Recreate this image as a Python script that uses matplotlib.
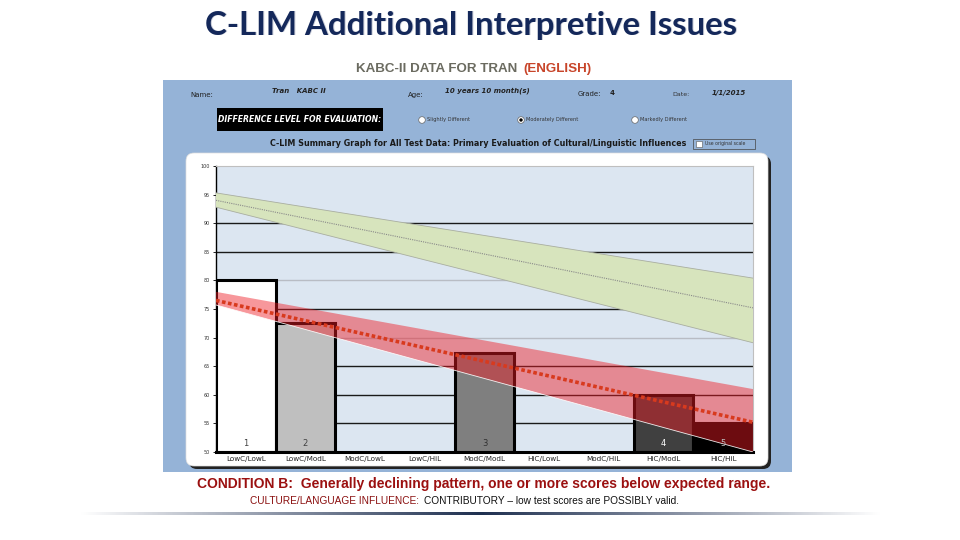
import matplotlib.pyplot as plt
from matplotlib.patches import Rectangle, FancyBboxPatch, Circle
from matplotlib.colors import LinearSegmentedColormap
import numpy as np

# C-LIM cells on the x axis
categories = ['LowC/LowL', 'LowC/ModL', 'ModC/LowL', 'LowC/HiL', 'ModC/ModL',
              'HiC/LowL', 'ModC/HiL', 'HiC/ModL', 'HiC/HiL']
# aggregate scores per cell (None = no tests in that cell)
scores = [80, 72.5, None, None, 67.3, None, None, 60, 55]
score_labels = ['1', '2', '', '', '3', '', '', '4', '5']
y_ticks = [50, 55, 60, 65, 70, 75, 80, 85, 90, 95, 100]

# expected-range bands, given at the left and right edges of the plot
band_x = [-0.5, 8.5]
green_upper = [95.3, 80.4]
green_lower = [92.8, 69.1]
green_mid = [94.0, 75.2]
red_upper = [78.0, 61.0]
red_lower = [75.7, 50.0]
red_mid = [76.5, 55.2]

bar_colors = ['white', '#BFBFBF', None, None, '#7F7F7F', None, None, '#404040', '#000000']
label_colors = ['#404040', '#404040', None, None, '#303030', None, None, 'white', '#bbbbbb']

W, H = 960, 540
fig = plt.figure(figsize=(9.6, 5.4), dpi=100)

# page layer in pixel coordinates
bg = fig.add_axes([0, 0, 1, 1])
bg.set_xlim(0, W)
bg.set_ylim(H, 0)
bg.axis('off')


def text_after(prev, y, s, gap=0, **kw):
    # place a text run right after an earlier one
    fig.canvas.draw()
    x_end = bg.transData.inverted().transform(prev.get_window_extent().p1)[0]
    return bg.text(x_end + gap, y, s, ha='left', va='center', **kw)


bg.text(472, 26, 'C-LIM Additional Interpretive Issues', ha='center', va='center',
        fontsize=23.8, fontweight='bold', family='Lato', color='#c8ccd8')
bg.text(471, 25, 'C-LIM Additional Interpretive Issues', ha='center', va='center',
        fontsize=23.8, fontweight='bold', family='Lato', color='#14285a')

t1 = bg.text(356, 69, 'KABC-II DATA FOR TRAN', ha='left', va='center',
             fontsize=9.6, fontweight='bold', family='Liberation Sans', color='#6b6b60')
text_after(t1, 69, '(ENGLISH)', gap=6, fontsize=9.6, fontweight='bold', family='Liberation Sans',
           color='#c8452a')

# blue form panel
bg.add_patch(Rectangle((163, 80), 629, 392, facecolor='#95B3D7', edgecolor='none'))
bg.text(190, 95, 'Name:', fontsize=5, va='center', color='#222222')
bg.text(272, 91, 'Tran   KABC II', fontsize=5, va='center', style='italic', fontweight='bold', color='#222222')
bg.text(408, 95, 'Age:', fontsize=5, va='center', color='#222222')
bg.text(445, 91, '10 years 10 month(s)', fontsize=5, va='center', style='italic', fontweight='bold', color='#222222')
bg.text(578, 94, 'Grade:', fontsize=5, va='center', color='#222222')
bg.text(610, 93, '4', fontsize=5, va='center', fontweight='bold', color='#222222')
bg.text(672, 95, 'Date:', fontsize=4.5, va='center', color='#333333')
bg.text(712, 93, '1/1/2015', fontsize=5, va='center', style='italic', fontweight='bold', color='#222222')

bg.add_patch(Rectangle((217, 108), 166, 23, facecolor='black', edgecolor='none'))
bg.text(300, 119.5, 'DIFFERENCE LEVEL FOR EVALUATION:', ha='center', va='center', fontsize=5.6,
        style='italic', fontweight='bold', color='white')

for cx, txt, on in [(422, 'Slightly Different', False), (521, 'Moderately Different', True),
                    (635, 'Markedly Different', False)]:
    bg.add_patch(Circle((cx, 120), 3.3, facecolor='white', edgecolor='#666666', lw=0.5))
    if on:
        bg.add_patch(Circle((cx, 120), 1.7, facecolor='black', edgecolor='none'))
    bg.text(cx + 5, 120, txt, fontsize=3.6, va='center', color='#333333')

bg.text(478, 143, 'C-LIM Summary Graph for All Test Data: Primary Evaluation of Cultural/Linguistic Influences',
        ha='center', va='center', fontsize=5.8, fontweight='bold', color='#1a1a1a')
bg.add_patch(Rectangle((693, 139), 62, 10, facecolor='#95B3D7', edgecolor='#444444', lw=0.5))
bg.add_patch(Rectangle((696, 141), 6, 6, facecolor='white', edgecolor='#555555', lw=0.4))
bg.text(705, 144, 'Use original scale', fontsize=3.3, va='center', color='#333333')

# white chart box with shadow
bg.add_patch(FancyBboxPatch((189, 156), 582, 313, boxstyle='round,pad=0,rounding_size=8',
                            facecolor='#222222', edgecolor='none'))
bg.add_patch(FancyBboxPatch((186, 153), 582, 313, boxstyle='round,pad=0,rounding_size=8',
                            facecolor='white', edgecolor='#dddddd', lw=0.5))

# captions
bg.text(484, 484, 'CONDITION B:  Generally declining pattern, one or more scores below expected range.',
        ha='center', va='center', fontsize=10, fontweight='bold', family='Liberation Sans', color='#9b1010')
t2 = bg.text(250, 501, 'CULTURE/LANGUAGE INFLUENCE:', ha='left', va='center', fontsize=7.3,
             family='Liberation Sans', color='#8b1010')
text_after(t2, 501, 'CONTRIBUTORY \u2013 low test scores are POSSIBLY valid.', gap=5,
           fontsize=7.3, family='Liberation Sans', color='#111111')

# fading rule under the captions
grad = np.abs(np.linspace(-1, 1, 400))
rule = fig.add_axes([80 / W, 1 - 515 / H, 800 / W, 3 / H])
rule.imshow(grad[None, :], aspect='auto', vmin=0, vmax=1,
            cmap=LinearSegmentedColormap.from_list('r', ['#1f3050', '#8a93a5', '#ffffff']))
rule.axis('off')

# chart
ax = fig.add_axes([216 / W, 1 - 452 / H, 537 / W, 286 / H])
ax.set_facecolor('#DCE6F1')
x = np.arange(len(categories))
ax.set_xlim(-0.5, len(categories) - 0.5)
ax.set_ylim(50, 100)

for yv, col in [(55, '#1a1a1a'), (60, '#1a1a1a'), (65, '#1a1a1a'), (70, '#b8bcc4'), (75, '#1a1a1a'),
                (80, '#b8bcc4'), (85, '#1a1a1a'), (90, '#1a1a1a')]:
    ax.axhline(yv, color=col, lw=1.0, zorder=0.5)

for i, v in enumerate(scores):
    if v is None:
        continue
    ax.bar(x[i], v - 50, bottom=50, width=1.0, color=bar_colors[i], edgecolor='black', lw=2.2, zorder=2)
    ax.text(x[i], 51.4, score_labels[i], ha='center', va='center', fontsize=6, color=label_colors[i], zorder=5)

ax.fill_between(band_x, green_lower, green_upper, color='#D7E4BD', edgecolor='none', zorder=3)
ax.plot(band_x, green_upper, color='#a9aea0', lw=0.6, zorder=3.2)
ax.plot(band_x, green_lower, color='#a9aea0', lw=0.6, zorder=3.2)
ax.plot(band_x, green_mid, color='#8a8a8a', lw=0.8, ls=(0, (1, 1)), zorder=3.3)

ax.fill_between(band_x, red_lower, red_upper, color='#EE1C25', alpha=0.46, edgecolor='none', zorder=3)
ax.plot(band_x, red_lower, color='white', lw=0.6, alpha=0.9, zorder=3.2)
ax.plot(band_x, red_mid, color='#D83A1E', lw=2.6, ls=(0, (1, 0.7)), zorder=3.3)

ax.set_xticks(x)
ax.set_xticklabels(categories, fontsize=5.2, color='#222222')
ax.set_yticks(y_ticks)
ax.set_yticklabels([str(t) for t in y_ticks], fontsize=3.5, color='#333333')
ax.tick_params(axis='x', length=0, pad=3)
ax.tick_params(axis='y', length=2.5, width=0.6, pad=2)
for s in ['top', 'right']:
    ax.spines[s].set_color('#bfbfbf')
    ax.spines[s].set_linewidth(0.8)
ax.spines['left'].set_color('black')
ax.spines['left'].set_linewidth(1.0)
ax.spines['bottom'].set_color('black')
ax.spines['bottom'].set_linewidth(2.2)

fig.savefig('out.png', dpi=100)
